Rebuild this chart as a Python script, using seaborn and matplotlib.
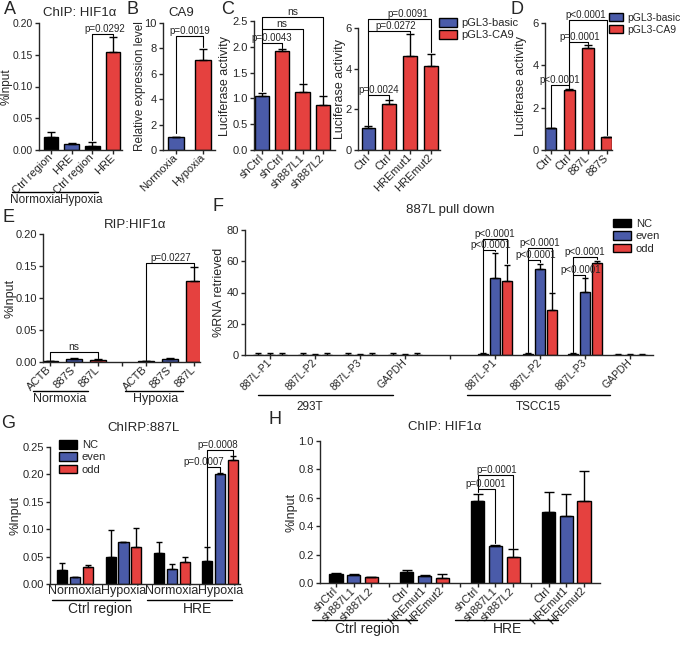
"""
Multi-panel bar figure (ChIP / luciferase / RIP / pull-down / ChIRP).
Each panel is drawn with sns.barplot; error bars and p-value brackets are
added on top with plain matplotlib.
"""

import numpy as np
import pandas as pd
import matplotlib
matplotlib.use("Agg")
import matplotlib.pyplot as plt
import seaborn as sns
from matplotlib.ticker import FormatStrFormatter

W, H = 685, 646

BLACK = "#000000"
BLUE = "#4A5BA9"
RED = "#E5413F"

# ---------------------------------------------------------------------------
# DATA
# ---------------------------------------------------------------------------
# A  ChIP: HIF1a
A_CONDITIONS = ["Normoxia", "Normoxia", "Hypoxia", "Hypoxia"]
A_REGIONS = ["Ctrl region", "HRE", "Ctrl region", "HRE"]
A_SERIES = ["ctrl", "HRE normoxia", "ctrl", "HRE hypoxia"]
A_VALUES = [0.020, 0.0095, 0.0065, 0.154]
A_ERRORS = [0.008, 0.001, 0.0065, 0.024]

# B  CA9
B_CONDITIONS = ["Normoxia", "Hypoxia"]
B_VALUES = [1.0, 7.05]
B_ERRORS = [0.0, 0.88]

# C (left)  luciferase, knockdown
C1_LABELS = ["shCtrl", "shCtrl", "sh887L1", "sh887L2"]
C1_CONSTRUCTS = ["pGL3-basic", "pGL3-CA9", "pGL3-CA9", "pGL3-CA9"]
C1_VALUES = [1.045, 1.92, 1.13, 0.87]
C1_ERRORS = [0.05, 0.03, 0.15, 0.17]

# C (right)  luciferase, HRE mutants
C2_LABELS = ["Ctrl", "Ctrl", "HREmut1", "HREmut2"]
C2_CONSTRUCTS = ["pGL3-basic", "pGL3-CA9", "pGL3-CA9", "pGL3-CA9"]
C2_VALUES = [1.10, 2.25, 4.60, 4.11]
C2_ERRORS = [0.07, 0.22, 1.10, 0.62]

# D  luciferase, overexpression
D_LABELS = ["Ctrl", "Ctrl", "887L", "887S"]
D_CONSTRUCTS = ["pGL3-basic", "pGL3-CA9", "pGL3-CA9", "pGL3-CA9"]
D_VALUES = [1.02, 2.84, 4.83, 0.625]
D_ERRORS = [0.0, 0.06, 0.14, 0.0]

# E  RIP:HIF1a
E_CONDITIONS = ["Normoxia"] * 3 + ["Hypoxia"] * 3
E_PROBES = ["ACTB", "887S", "887L"] * 2
E_VALUES = [0.0012, 0.0045, 0.003, 0.0012, 0.004, 0.127]
E_ERRORS = [0.0005, 0.001, 0.002, 0.0008, 0.002, 0.021]

# F  887L pull down
F_CELLS = ["293T"] * 4 + ["TSCC15"] * 4
F_TARGETS = ["887L-P1", "887L-P2", "887L-P3", "GAPDH"] * 2
F_NC = [0.3, 0.3, 0.3, 0.3, 0.5, 0.6, 0.5, 0.1]
F_NC_ERR = [0.8, 0.8, 0.8, 0.8, 0.8, 1.0, 0.8, 0.3]
F_EVEN = [0.3, 0.2, 0.3, 0.2, 49.1, 54.8, 40.5, 0.1]
F_EVEN_ERR = [0.8, 0.3, 0.6, 0.6, 16.2, 3.4, 8.6, 0.3]
F_ODD = [0.3, 0.3, 0.3, 0.3, 47.6, 28.8, 59.1, 0.1]
F_ODD_ERR = [0.8, 0.9, 0.8, 0.8, 10.0, 10.7, 1.3, 0.3]

# G  ChIRP:887L
G_REGIONS = ["Ctrl region", "Ctrl region", "HRE", "HRE"]
G_CONDITIONS = ["Normoxia", "Hypoxia", "Normoxia", "Hypoxia"]
G_NC = [0.026, 0.050, 0.056, 0.042]
G_NC_ERR = [0.012, 0.049, 0.020, 0.026]
G_EVEN = [0.013, 0.077, 0.027, 0.2015]
G_EVEN_ERR = [0.0005, 0.0005, 0.009, 0.0015]
G_ODD = [0.031, 0.067, 0.041, 0.226]
G_ODD_ERR = [0.003, 0.036, 0.008, 0.007]

# H  ChIP: HIF1a
H_REGIONS = ["Ctrl region"] * 6 + ["HRE"] * 6
H_LABELS = ["shCtrl", "sh887L1", "sh887L2", "Ctrl", "HREmut1", "HREmut2"] * 2
H_SERIES = ["control", "variant 1", "variant 2"] * 4
H_VALUES = [0.063, 0.058, 0.042, 0.075, 0.047, 0.035,
            0.58, 0.258, 0.18, 0.50, 0.469, 0.575]
H_ERRORS = [0.006, 0.002, 0.003, 0.02, 0.011, 0.028,
            0.047, 0.012, 0.062, 0.138, 0.158, 0.216]

PROBES = ["NC", "even", "odd"]
PROBE_PALETTE = {"NC": BLACK, "even": BLUE, "odd": RED}
CONSTRUCT_PALETTE = {"pGL3-basic": BLUE, "pGL3-CA9": RED}


# ---------------------------------------------------------------------------
# helpers
# ---------------------------------------------------------------------------
def add_ax(fig, box):
    """Axes from pixel box (left, top, right, bottom)."""
    x0, y0, x1, y1 = box
    return fig.add_axes([x0 / W, 1 - y1 / H, (x1 - x0) / W, (y1 - y0) / H])


def fig_text(fig, x, y, s, size, **kw):
    fig.text(x / W, 1 - y / H, s, fontsize=size, ha="center", va="center", **kw)


def style_axis(ax, box, ylim, yticks, fmt, ylabel, ylabel_x, xlim, ylabel_size=9):
    sns.despine(ax=ax)
    for side in ("left", "bottom"):
        ax.spines[side].set_linewidth(1)
    ax.set_ylim(*ylim)
    ax.set_yticks(yticks)
    ax.yaxis.set_major_formatter(FormatStrFormatter(fmt))
    ax.set_xlim(*xlim)
    ax.set_ylabel(ylabel, fontsize=ylabel_size)
    # put the y label centre at a fixed pixel column, like the reference
    ax.yaxis.set_label_coords((ylabel_x - box[0]) / (box[2] - box[0]), 0.5)
    ax.yaxis.label.set_va("center")
    ax.set_xlabel("")
    ax.tick_params(axis="both", direction="out", length=3, width=1, labelsize=8, pad=1.5)


def rotated_ticks(ax, labels, size=8):
    ax.set_xticks(range(len(labels)))
    ax.set_xticklabels(labels, rotation=45, ha="right", va="center",
                       rotation_mode="anchor", fontsize=size)


def simple_bars(ax, keys, values, errors, series, palette, order, width, capsize=3, legend=False):
    df = pd.DataFrame({"key": keys, "value": values, "series": series})
    sns.barplot(data=df, x="key", y="value", hue="series", order=order, palette=palette,
                dodge=False, width=width, saturation=1, edgecolor="black", linewidth=1,
                errorbar=None, legend=legend, ax=ax)
    xs = [order.index(k) for k in keys]
    ax.errorbar(xs, values, yerr=[np.zeros(len(errors)), errors], fmt="none",
                ecolor="black", elinewidth=1, capsize=capsize, capthick=1)


def grouped_bars(ax, groups, order, series_values, series_errors, gap, capsize=2.5):
    rows = []
    for probe, vals in zip(PROBES, series_values):
        for g, v in zip(groups, vals):
            rows.append({"group": g, "probe": probe, "value": v})
    df = pd.DataFrame(rows)
    sns.barplot(data=df, x="group", y="value", hue="probe", order=order, hue_order=PROBES,
                palette=PROBE_PALETTE, width=0.8, gap=gap, saturation=1, edgecolor="black",
                linewidth=1, errorbar=None, ax=ax)
    base = np.array([order.index(g) for g in groups])
    for j, (vals, errs) in enumerate(zip(series_values, series_errors)):
        ax.errorbar(base + (j - 1) * 0.8 / 3, vals, yerr=[np.zeros(len(errs)), errs],
                    fmt="none", ecolor="black", elinewidth=1, capsize=capsize, capthick=1)


def bracket(ax, x1, x2, y, leg1, leg2, text, tx=None, size=7):
    ax.plot([x1, x1, x2, x2], [leg1, y, y, leg2], color="black", lw=0.8, clip_on=False)
    ax.text((x1 + x2) / 2 if tx is None else tx, y, text, ha="center", va="bottom",
            fontsize=size, clip_on=False)


def group_label(ax, x1, x2, y_line, text, x_text, y_text, size):
    tr = ax.get_xaxis_transform()
    ax.plot([x1, x2], [y_line, y_line], color="black", lw=1, transform=tr, clip_on=False)
    ax.text(x_text, y_text, text, transform=tr, ha="center", va="top", fontsize=size)


def place_legend(ax, fig, x, y, size=8, handlelength=1.6):
    sns.move_legend(ax, "upper left", bbox_to_anchor=(x / W, 1 - y / H),
                    bbox_transform=fig.transFigure, frameon=False, title=None,
                    fontsize=size, handlelength=handlelength, handleheight=0.8,
                    handletextpad=0.45, labelspacing=0.2, borderaxespad=0, borderpad=0)
    for patch in ax.get_legend().get_patches():
        patch.set_edgecolor("black")
        patch.set_linewidth(1)


# ---------------------------------------------------------------------------
# panels
# ---------------------------------------------------------------------------
def panel_a(fig):
    box = (39, 23, 122, 150)
    ax = add_ax(fig, box)
    keys = [f"{c}|{r}" for c, r in zip(A_CONDITIONS, A_REGIONS)]
    palette = {"ctrl": BLACK, "HRE normoxia": BLUE, "HRE hypoxia": RED}
    simple_bars(ax, keys, A_VALUES, A_ERRORS, A_SERIES, palette, keys, 0.7)
    style_axis(ax, box, (0, 0.20), [0, 0.05, 0.10, 0.15, 0.20], "%.2f", "%Input", 7,
               (-0.58, 3.43), ylabel_size=8.5)
    ax.tick_params(axis="y", labelsize=7.5)
    rotated_ticks(ax, A_REGIONS)
    bracket(ax, 2, 3, 0.183, 0.015, 0.179, "p=0.0292", tx=2.6)
    group_label(ax, -1.88, 0.14, -0.33, "Normoxia", -0.77, -0.35, 8.5)
    group_label(ax, 0.24, 2.27, -0.33, "Hypoxia", 1.45, -0.35, 8.5)
    fig_text(fig, 80, 13, "ChIP: HIF1α", 9.5)
    fig_text(fig, 10, 9, "A", 13)


def panel_b(fig):
    box = (163, 23, 215, 150)
    ax = add_ax(fig, box)
    palette = {"Normoxia": BLUE, "Hypoxia": RED}
    simple_bars(ax, B_CONDITIONS, B_VALUES, B_ERRORS, B_CONDITIONS, palette, B_CONDITIONS, 0.58)
    style_axis(ax, box, (0, 10), [0, 2, 4, 6, 8, 10], "%d", "Relative expression level", 140,
               (-0.48, 1.44), ylabel_size=8.5)
    rotated_ticks(ax, B_CONDITIONS)
    bracket(ax, 0, 1, 9.0, 1.3, 8.1, "p=0.0019")
    fig_text(fig, 181, 13, "CA9", 9.5)
    fig_text(fig, 133, 9, "B", 13)


def panel_c(fig):
    box = (254, 21, 335, 150)
    ax = add_ax(fig, box)
    keys = [f"{i}" for i in range(len(C1_LABELS))]
    simple_bars(ax, keys, C1_VALUES, C1_ERRORS, C1_CONSTRUCTS, CONSTRUCT_PALETTE, keys, 0.7)
    style_axis(ax, box, (0, 2.5), [0, 0.5, 1.0, 1.5, 2.0, 2.5], "%.1f", "Luciferase activity",
               225, (-0.39, 3.6))
    rotated_ticks(ax, C1_LABELS)
    bracket(ax, 0, 1, 2.08, 1.15, 1.97, "p=0.0043")
    bracket(ax, 0, 2, 2.34, 2.08, 1.29, "ns", size=7.5)
    bracket(ax, 0, 3, 2.58, 2.34, 1.06, "ns", size=7.5)
    fig_text(fig, 228, 9, "C", 13)

    box = (358, 28, 440, 150)
    ax2 = add_ax(fig, box)
    keys = [f"{i}" for i in range(len(C2_LABELS))]
    simple_bars(ax2, keys, C2_VALUES, C2_ERRORS, C2_CONSTRUCTS, CONSTRUCT_PALETTE, keys, 0.66,
                legend=True)
    style_axis(ax2, box, (0, 6), [0, 2, 4, 6], "%d", "Luciferase activity", 340, (-0.5, 3.45))
    rotated_ticks(ax2, C2_LABELS)
    bracket(ax2, 0, 1, 2.71, 1.25, 2.52, "p=0.0024")
    bracket(ax2, 0, 2, 5.87, 2.71, 5.75, "p=0.0272", tx=1.3)
    bracket(ax2, 0, 3, 6.45, 5.87, 4.80, "p=0.0091", tx=1.9)
    place_legend(ax2, fig, 439, 18)


def panel_d(fig):
    box = (545, 23, 612, 150)
    ax = add_ax(fig, box)
    keys = [f"{i}" for i in range(len(D_LABELS))]
    simple_bars(ax, keys, D_VALUES, D_ERRORS, D_CONSTRUCTS, CONSTRUCT_PALETTE, keys, 0.6,
                legend=True)
    style_axis(ax, box, (0, 6), [0, 2, 4, 6], "%d", "Luciferase activity", 521, (-0.3, 3.28))
    rotated_ticks(ax, D_LABELS)
    bracket(ax, 0, 1, 3.08, 1.1, 2.95, "p<0.0001")
    bracket(ax, 1, 2, 5.11, 3.08, 5.0, "p=0.0001", tx=1.55)
    bracket(ax, 1, 3, 6.13, 5.11, 0.7, "p<0.0001", tx=1.85)
    place_legend(ax, fig, 609, 13, size=7.5, handlelength=1.3)
    fig_text(fig, 517, 9, "D", 13)


def panel_e(fig):
    box = (43, 234, 200, 362)
    ax = add_ax(fig, box)
    keys = [f"{c}|{p}" for c, p in zip(E_CONDITIONS, E_PROBES)]
    order = keys[:3] + ["gap"] + keys[3:]
    palette = {"ACTB": BLACK, "887S": BLUE, "887L": RED}
    simple_bars(ax, keys, E_VALUES, E_ERRORS, E_PROBES, palette, order, 0.7)
    style_axis(ax, box, (0, 0.20), [0, 0.05, 0.10, 0.15, 0.20], "%.2f", "%Input", 10,
               (-0.29, 6.25))
    rotated_ticks(ax, E_PROBES[:3] + [""] + E_PROBES[3:])
    bracket(ax, 0, 2, 0.0156, 0.003, 0.006, "ns", size=7.5)
    bracket(ax, 4, 6, 0.155, 0.003, 0.1485, "p=0.0227", tx=5.05)
    group_label(ax, -0.71, 1.58, -0.227, "Normoxia", 0.42, -0.245, 9)
    group_label(ax, 3.125, 5.54, -0.227, "Hypoxia", 4.42, -0.245, 9)
    fig_text(fig, 135, 225, "RIP:HIF1α", 9.5)
    fig_text(fig, 9, 217, "E", 13)


def panel_f(fig):
    box = (245, 230, 653, 355)
    ax = add_ax(fig, box)
    groups = [f"{c}|{t}" for c, t in zip(F_CELLS, F_TARGETS)]
    order = groups[:4] + ["gap"] + groups[4:]
    grouped_bars(ax, groups, order, [F_NC, F_EVEN, F_ODD], [F_NC_ERR, F_EVEN_ERR, F_ODD_ERR],
                 gap=0.15)
    style_axis(ax, box, (0, 80), [0, 20, 40, 60, 80], "%d", "%RNA retrieved", 219,
               (-0.56, 8.51))
    rotated_ticks(ax, F_TARGETS[:4] + [""] + F_TARGETS[4:], size=7.5)
    d = 0.8 / 3
    for slot, (low, high, leg_even, leg_odd) in zip(
            [5, 6, 7], [(67.2, 74.2, 66.5, 58.8), (60.8, 68.7, 59.5, 40.5), (51.2, 62.9, 50.0, 61.5)]):
        bracket(ax, slot - d, slot, low, 2, leg_even, "p<0.0001", tx=slot - 0.1)
        bracket(ax, slot - d, slot + d, high, low, leg_odd, "p<0.0001", tx=slot)
    group_label(ax, -0.27, 2.73, -0.32, "293T", 0.87, -0.37, 8.5)
    group_label(ax, 4.38, 7.56, -0.32, "TSCC15", 5.96, -0.37, 8.5)
    place_legend(ax, fig, 613, 219, size=8)
    fig_text(fig, 450, 210, "887L pull down", 9.5)
    fig_text(fig, 218, 207, "F", 13)


def panel_g(fig):
    box = (50, 447, 240, 584)
    ax = add_ax(fig, box)
    groups = [f"{r}|{c}" for r, c in zip(G_REGIONS, G_CONDITIONS)]
    grouped_bars(ax, groups, groups, [G_NC, G_EVEN, G_ODD], [G_NC_ERR, G_EVEN_ERR, G_ODD_ERR],
                 gap=0.22)
    style_axis(ax, box, (0, 0.25), [0, 0.05, 0.10, 0.15, 0.20, 0.25], "%.2f", "%Input", 16,
               (-0.52, 3.41))
    ax.set_xticks(range(len(groups)))
    ax.set_xticklabels(G_CONDITIONS, fontsize=9)
    ax.tick_params(axis="x", length=0, pad=1)
    d = 0.8 / 3
    bracket(ax, 3 - d, 3, 0.214, 0.07, 0.205, "p=0.0007", tx=2.65)
    bracket(ax, 3 - d, 3 + d, 0.244, 0.214, 0.235, "p=0.0008", tx=2.95)
    group_label(ax, -0.48, 1.14, -0.117, "Ctrl region", 0.52, -0.135, 10)
    group_label(ax, 1.49, 3.25, -0.117, "HRE", 2.53, -0.135, 10)
    place_legend(ax, fig, 59, 440, size=8)
    fig_text(fig, 143, 428, "ChIRP:887L", 9.5)
    fig_text(fig, 8, 423, "G", 13)


def panel_h(fig):
    box = (320, 441, 600, 583)
    ax = add_ax(fig, box)
    keys = [f"{r}|{l}" for r, l in zip(H_REGIONS, H_LABELS)]
    order = keys[0:3] + ["gap1"] + keys[3:6] + ["gap2"] + keys[6:9] + ["gap3"] + keys[9:12]
    palette = {"control": BLACK, "variant 1": BLUE, "variant 2": RED}
    simple_bars(ax, keys, H_VALUES, H_ERRORS, H_SERIES, palette, order, 0.75, capsize=3.5)
    style_axis(ax, box, (0, 1.0), [0, 0.2, 0.4, 0.6, 0.8, 1.0], "%.1f", "%Input", 291,
               (-0.9, 14.9))
    labels = H_LABELS[0:3] + [""] + H_LABELS[3:6] + [""] + H_LABELS[6:9] + [""] + H_LABELS[9:12]
    rotated_ticks(ax, labels, size=8)
    bracket(ax, 8, 9, 0.66, 0.64, 0.28, "p=0.0001", tx=8.47)
    bracket(ax, 8, 10, 0.763, 0.66, 0.25, "p=0.0001", tx=9.1)
    group_label(ax, -1.36, 4.58, -0.26, "Ctrl region", 1.75, -0.275, 10)
    group_label(ax, 6.72, 12.54, -0.26, "HRE", 9.66, -0.275, 10)
    fig_text(fig, 445, 427, "ChIP: HIF1α", 9.5)
    fig_text(fig, 275, 420, "H", 13)


def main():
    sns.set_style("ticks")
    plt.rcParams["font.family"] = ["Liberation Sans", "DejaVu Sans"]
    plt.rcParams["axes.linewidth"] = 1

    fig = plt.figure(figsize=(W / 100, H / 100), dpi=100)
    panel_a(fig)
    panel_b(fig)
    panel_c(fig)
    panel_d(fig)
    panel_e(fig)
    panel_f(fig)
    panel_g(fig)
    panel_h(fig)
    fig.savefig("out.png", dpi=100)
    plt.close(fig)


if __name__ == "__main__":
    main()
